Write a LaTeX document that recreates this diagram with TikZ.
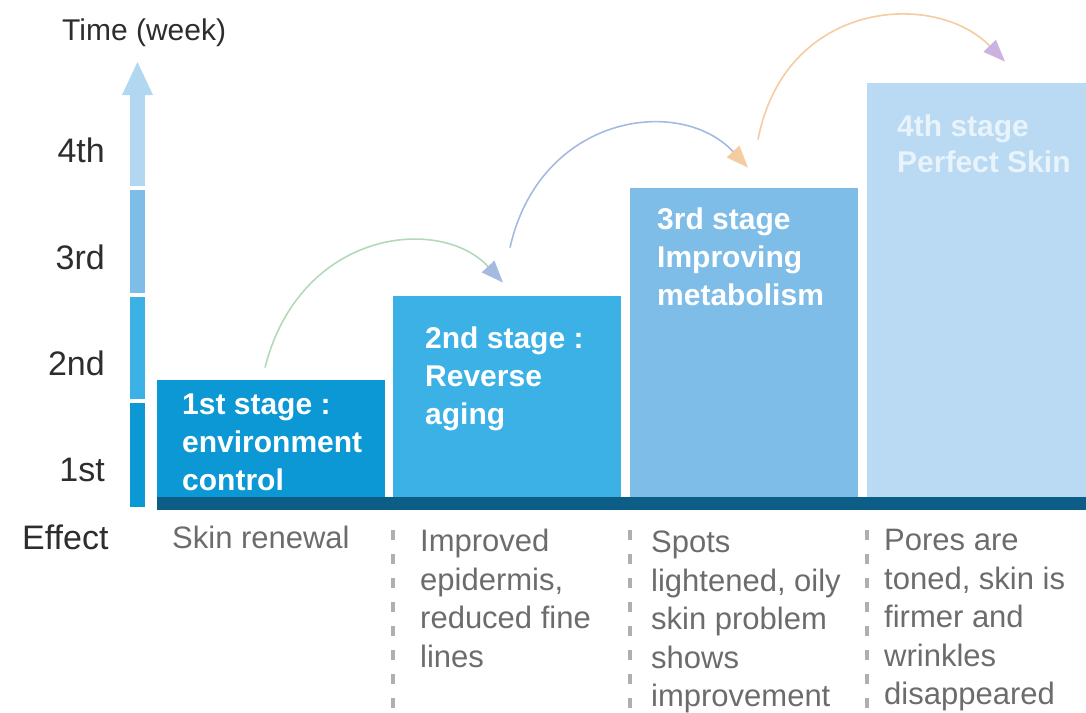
\documentclass[tikz,border=0pt]{standalone}
\usepackage{fontspec}
\setmainfont{Liberation Sans}
\usetikzlibrary{arrows.meta}
\definecolor{stageone}{RGB}{11,152,212}
\definecolor{stagetwo}{RGB}{59,177,230}
\definecolor{stagethree}{RGB}{126,189,232}
\definecolor{stagefour}{RGB}{185,218,242}
\definecolor{axisfour}{RGB}{178,215,241}
\definecolor{groundbar}{RGB}{13,94,134}
\definecolor{effectgrey}{RGB}{108,108,108}
\definecolor{labelgrey}{RGB}{45,45,45}
\definecolor{dashgrey}{RGB}{175,175,175}
\definecolor{jumpgreen}{RGB}{178,218,184}
\definecolor{jumpblue}{RGB}{165,186,225}
\definecolor{jumporange}{RGB}{245,204,160}
\definecolor{jumppurple}{RGB}{204,178,222}
\definecolor{paletext}{RGB}{232,243,251}
\tikzset{
  stagebox/.style={rectangle, inner sep=0pt, anchor=south west, minimum width=228},
  stagetext/.style={anchor=north west, inner sep=0pt, align=left, text=white,
    font=\fontsize{30}{38}\selectfont\bfseries},
  effecttext/.style={anchor=north west, inner sep=0pt, align=left, text=effectgrey,
    font=\fontsize{31}{38.5}\selectfont},
  axislabel/.style={anchor=east, inner sep=0pt, text=labelgrey,
    font=\fontsize{34}{40}\selectfont},
  jump/.style={line width=1.6pt},
  divider/.style={dashgrey, line width=3.5pt, dash pattern=on 10pt off 14pt}
}
\begin{document}
\begin{tikzpicture}[x=1pt,y=-1pt]
  \useasboundingbox (0,0) rectangle (1086,712);
  % time axis
  \fill[stageone] (130,403) rectangle (145,507);
  \fill[stagetwo] (130,297) rectangle (145,399);
  \fill[stagethree] (130,190) rectangle (145,293);
  \fill[axisfour] (130,95) rectangle (145,186);
  \fill[axisfour] (122,95) -- (137.5,62) -- (153,95) -- cycle;
  \node[axislabel, anchor=west, font=\fontsize{30}{36}\selectfont] (time) at (62,33) {Time (week)};
  \node[axislabel] (w4) at (105,150) {4th};
  \node[axislabel] (w3) at (105,257) {3rd};
  \node[axislabel] (w2) at (105,363) {2nd};
  \node[axislabel] (w1) at (105,470) {1st};
  \node[axislabel, anchor=west] (effect) at (22,537) {Effect};
  % stages
  \node[stagebox, fill=stageone, minimum height=117] (s1) at (157,497) {};
  \node[stagebox, fill=stagetwo, minimum height=201] (s2) at (393,497) {};
  \node[stagebox, fill=stagethree, minimum height=309] (s3) at (630,497) {};
  \node[stagebox, fill=stagefour, minimum height=414, minimum width=219] (s4) at (867,497) {};
  \fill[groundbar] (157,497) rectangle (1086,510);
  \node[stagetext] (t1) at ([shift={(25,14)}]s1.north west) {1st stage :\\environment\\control};
  \node[stagetext] (t2) at ([shift={(32,31)}]s2.north west) {2nd stage :\\Reverse\\aging};
  \node[stagetext] (t3) at ([shift={(27,20)}]s3.north west) {3rd stage\\Improving\\metabolism};
  \node[stagetext, text=paletext, font=\fontsize{30}{36}\selectfont\bfseries] (t4)
    at ([shift={(30,32)}]s4.north west) {4th stage\\Perfect Skin};
  % jumps between stages
  \coordinate (j1a) at ([shift={(108,-12)}]s1.north west);
  \coordinate (j1b) at ([shift={(110,-13)}]s2.north west);
  \coordinate (j2a) at ([shift={(117,-48)}]s2.north west);
  \coordinate (j2b) at ([shift={(118,-20)}]s3.north west);
  \coordinate (j3a) at ([shift={(128,-48)}]s3.north west);
  \coordinate (j3b) at ([shift={(138,-21)}]s4.north west);
  \draw[jump, jumpgreen, -{Triangle[length=22pt,width=17pt,color=jumpblue]}]
    (j1a) .. controls +(35,-138) and +(-63,-68) .. (j1b);
  \draw[jump, jumpblue, -{Triangle[length=22pt,width=17pt,color=jumporange]}]
    (j2a) .. controls +(30,-133) and +(-68,-73) .. (j2b);
  \draw[jump, jumporange, -{Triangle[length=22pt,width=17pt,color=jumppurple]}]
    (j3a) .. controls +(27,-140) and +(-70,-72) .. (j3b);
  % effects
  \draw[divider] (393,530) -- (393,712);
  \draw[divider] (630,530) -- (630,712);
  \draw[divider] (867,530) -- (867,712);
  \node[effecttext] (e1) at ([shift={(15,29)}]s1.south west) {Skin renewal};
  \node[effecttext] (e2) at ([shift={(27,32)}]s2.south west) {Improved\\epidermis,\\reduced fine\\lines};
  \node[effecttext] (e3) at ([shift={(21,34)}]s3.south west) {Spots\\lightened, oily\\skin problem\\shows\\improvement};
  \node[effecttext] (e4) at ([shift={(17,32)}]s4.south west) {Pores are\\toned, skin is\\firmer and\\wrinkles\\disappeared};
\end{tikzpicture}
\end{document}
